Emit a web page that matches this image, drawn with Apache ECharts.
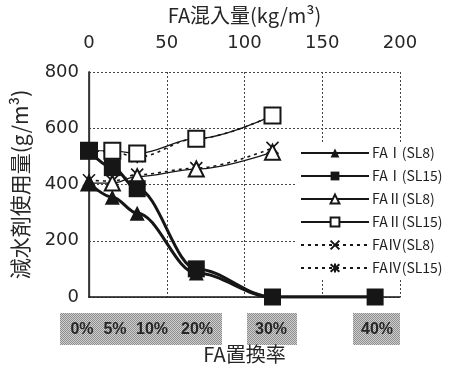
<!DOCTYPE html>
<html>
<head>
<meta charset="utf-8">
<script src="https://cdn.jsdelivr.net/npm/echarts@6/dist/echarts.min.js"></script>
<style>
  html, body { margin: 0; padding: 0; background: #fff; }
  #chart { width: 454px; height: 369px; }
</style>
</head>
<body>
<div id="chart"></div>
<script>
// FA amount (kg/m3) at each replacement step 0%,5%,10%,20%,30%,40%
const faAmount = [0, 15, 31, 69, 118, 184];

// Superplasticizer dosage (g/m3)
const faI_SL8   = [405, 355, 298, 85, 0, 0];
const faI_SL15  = [520, 460, 385, 100, 0, 0];
const faII_SL8  = [405, 405, 428, 455, 515];
const faII_SL15 = [520, 520, 510, 563, 645];
const faIV_SL8  = [415, 412, 435, 458, 530];
const faIV_SL15 = [520, 517, 497, 563, 645];

const seriesNames = ['FAⅠ(SL8)', 'FAⅠ(SL15)', 'FAⅡ(SL8)', 'FAⅡ(SL15)', 'FAⅣ(SL8)', 'FAⅣ(SL15)'];

// Axis ranges
const amountTicks = [0, 50, 100, 150, 200];
const dosageTicks = [0, 200, 400, 600, 800];

// Replacement-ratio labels shown in shaded boxes under the plot
const ratioGroups = [
  { box: [60, 222], labels: [['0%', 82], ['5%', 115], ['10%', 152], ['20%', 197]] },
  { box: [247, 297], labels: [['30%', 271]] },
  { box: [353, 400], labels: [['40%', 377]] }
];

const INK = '#161616';
const pair = (vals) => vals.map((v, i) => [faAmount[i], v]);

// halftone fill for the label boxes
function halftone() {
  const c = document.createElement('canvas');
  c.width = 2; c.height = 2;
  const g = c.getContext('2d');
  g.fillStyle = '#cfcfcf'; g.fillRect(0, 0, 2, 2);
  g.fillStyle = '#8e8e8e'; g.fillRect(0, 0, 1, 1); g.fillRect(1, 1, 1, 1);
  return c;
}
const pattern = { image: halftone(), repeat: 'repeat' };

const graphics = [];
ratioGroups.forEach(grp => {
  graphics.push({
    type: 'rect', silent: true,
    shape: { x: grp.box[0], y: 313, width: grp.box[1] - grp.box[0], height: 32 },
    style: { fill: pattern }
  });
  grp.labels.forEach(([txt, cx]) => {
    graphics.push({
      type: 'text', silent: true, x: cx, y: 330,
      style: { text: txt, fill: '#262626', font: 'bold 16px "Liberation Sans", Arial, sans-serif',
               textAlign: 'center', textVerticalAlign: 'middle' }
    });
  });
});

const X_PATH = 'path://M0,0L10,10M10,0L0,10';
const STAR_PATH = 'path://M0,0L10,10M10,0L0,10M5,-1L5,11';

function line(name, vals, opts) {
  return Object.assign({
    name: name,
    type: 'line',
    xAxisIndex: 0,
    yAxisIndex: 0,
    data: pair(vals),
    smooth: 0.35,
    smoothMonotone: 'x',
    showAllSymbol: true
  }, opts);
}

const series = [
  line(seriesNames[4], faIV_SL8, {
    symbol: X_PATH, symbolSize: 12,
    lineStyle: { color: INK, width: 1.6, type: [3, 4] },
    itemStyle: { color: INK, borderColor: INK, borderWidth: 1.6 }
  }),
  line(seriesNames[5], faIV_SL15, {
    symbol: STAR_PATH, symbolSize: 12,
    lineStyle: { color: INK, width: 1.6, type: [3, 4] },
    itemStyle: { color: INK, borderColor: INK, borderWidth: 1.6 }
  }),
  line(seriesNames[2], faII_SL8, {
    symbol: 'emptyTriangle', symbolSize: 15,
    lineStyle: { color: INK, width: 1.2 },
    itemStyle: { color: INK, borderColor: INK, borderWidth: 1.4 }
  }),
  line(seriesNames[3], faII_SL15, {
    symbol: 'emptyRect', symbolSize: 16,
    lineStyle: { color: INK, width: 1.2 },
    itemStyle: { color: INK, borderColor: INK, borderWidth: 1.4 }
  }),
  line(seriesNames[0], faI_SL8, {
    symbol: 'triangle', symbolSize: 15,
    lineStyle: { color: INK, width: 3 },
    itemStyle: { color: INK }
  }),
  line(seriesNames[1], faI_SL15, {
    symbol: 'rect', symbolSize: 17,
    lineStyle: { color: INK, width: 3 },
    itemStyle: { color: INK }
  })
];

const tickFont = { fontFamily: '"DejaVu Sans", sans-serif', fontSize: 18, color: '#262626' };
const nameFont = { fontFamily: '"Noto Sans CJK JP", sans-serif', fontSize: 20, color: '#262626' };

const option = {
  animation: false,
  backgroundColor: '#fff',
  textStyle: { fontFamily: '"Noto Sans CJK JP", sans-serif' },
  grid: { left: 89, right: 54, top: 72, bottom: 67, containLabel: false },
  legend: {
    data: seriesNames,
    orient: 'vertical',
    left: 296, top: 142,
    padding: [4, 8, 4, 4],
    backgroundColor: '#fff',
    itemWidth: 68, itemHeight: 11, itemGap: 9,
    textStyle: { fontFamily: '"Noto Sans CJK JP", sans-serif', fontSize: 14, lineHeight: 14,
                 color: '#1e1e1e', padding: [0, 0, 0, -2] }
  },
  xAxis: [
    {
      type: 'value', position: 'top',
      min: amountTicks[0], max: amountTicks[amountTicks.length - 1], interval: 50,
      name: 'FA混入量(kg/m³)', nameLocation: 'middle', nameGap: 47, nameTextStyle: nameFont,
      axisLine: { lineStyle: { color: '#555', width: 1, type: [2, 2] } },
      axisTick: { show: false },
      axisLabel: Object.assign({ margin: 20 }, tickFont),
      splitLine: { show: true, lineStyle: { color: '#444', width: 1, type: [2, 2] } }
    },
    {
      type: 'value', position: 'bottom',
      min: amountTicks[0], max: amountTicks[amountTicks.length - 1],
      name: 'FA置換率', nameLocation: 'middle', nameGap: 47, nameTextStyle: nameFont,
      axisLine: { lineStyle: { color: INK, width: 1.5 } },
      axisTick: { show: false },
      axisLabel: { show: false },
      splitLine: { show: false }
    }
  ],
  yAxis: [
    {
      type: 'value', position: 'left',
      min: dosageTicks[0], max: dosageTicks[dosageTicks.length - 1], interval: 200,
      name: '減水剤使用量(g/m³)', nameLocation: 'middle', nameGap: 58, nameRotate: 90,
      nameTextStyle: Object.assign({}, nameFont, { fontSize: 21 }),
      axisLine: { show: true, lineStyle: { color: INK, width: 1.5 } },
      axisTick: { show: false },
      axisLabel: Object.assign({ margin: 10 }, tickFont),
      splitLine: { show: true, lineStyle: { color: '#444', width: 1, type: [2, 2] } }
    },
    {
      type: 'value', position: 'right',
      min: dosageTicks[0], max: dosageTicks[dosageTicks.length - 1],
      axisLine: { show: true, lineStyle: { color: '#333', width: 1.3 } },
      axisTick: { show: false },
      axisLabel: { show: false },
      splitLine: { show: false }
    }
  ],
  series: series,
  graphic: graphics
};

const chart = echarts.init(document.getElementById('chart'), null, { renderer: 'canvas' });
chart.setOption(option);
</script>
</body>
</html>
